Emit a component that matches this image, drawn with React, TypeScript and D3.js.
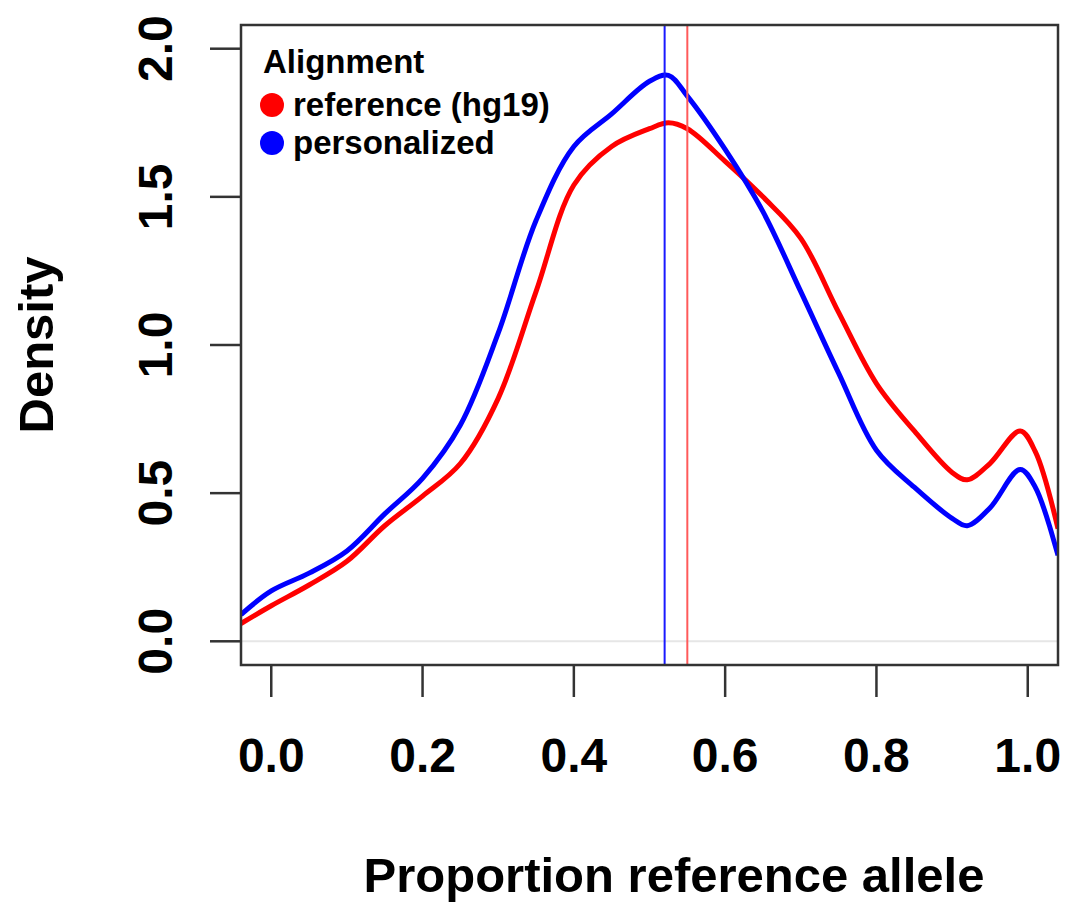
import { useEffect, useRef } from "react";
import * as d3 from "d3";

// density estimates
const xs = [-0.04, 0, 0.05, 0.1, 0.15, 0.2, 0.25, 0.3, 0.35, 0.4, 0.45, 0.5, 0.525, 0.55, 0.6, 0.65, 0.7, 0.75, 0.8, 0.85, 0.9, 0.92, 0.95, 0.99, 1.01, 1.04];
const referenceHg19 = [0.06, 0.12, 0.19, 0.27, 0.39, 0.49, 0.6, 0.82, 1.18, 1.54, 1.67, 1.73, 1.75, 1.73, 1.62, 1.5, 1.36, 1.11, 0.87, 0.71, 0.57, 0.545, 0.6, 0.71, 0.64, 0.38];
const personalized = [0.09, 0.17, 0.23, 0.305, 0.43, 0.55, 0.73, 1.04, 1.42, 1.67, 1.78, 1.89, 1.91, 1.84, 1.66, 1.45, 1.18, 0.905, 0.645, 0.52, 0.415, 0.39, 0.45, 0.58, 0.52, 0.29];
const medians = [
  { name: "personalized", value: 0.52, color: "#1a1aff" },
  { name: "reference (hg19)", value: 0.55, color: "#ff5a5a" },
];
const xTicks = [0, 0.2, 0.4, 0.6, 0.8, 1.0];
const yTicks = [0, 0.5, 1.0, 1.5, 2.0];
const legendItems = [
  { label: "reference (hg19)", color: "#ff0000" },
  { label: "personalized", color: "#0000ff" },
];

export default function App() {
  const ref = useRef<SVGSVGElement>(null);

  useEffect(() => {
    const width = 1067;
    const height = 903;
    const box = { left: 241, right: 1058, top: 25, bottom: 665 };
    const font = "'Liberation Sans', Arial, Helvetica, sans-serif";

    const svg = d3.select(ref.current);
    svg.selectAll("*").remove();
    svg.attr("width", width).attr("height", height);

    const x = d3.scaleLinear().domain([-0.04, 1.04]).range([box.left, box.right]);
    const y = d3.scaleLinear().domain([-0.08, 2.08]).range([box.bottom, box.top]);

    svg
      .append("defs")
      .append("clipPath")
      .attr("id", "plotclip")
      .append("rect")
      .attr("x", box.left)
      .attr("y", box.top)
      .attr("width", box.right - box.left)
      .attr("height", box.bottom - box.top);

    const plot = svg.append("g").attr("clip-path", "url(#plotclip)");

    // zero line
    plot
      .append("line")
      .attr("x1", box.left)
      .attr("x2", box.right)
      .attr("y1", y(0))
      .attr("y2", y(0))
      .attr("stroke", "#e6e6e6")
      .attr("stroke-width", 2);

    const line = d3
      .line<number>()
      .x((_, i) => x(xs[i]))
      .y((d) => y(d))
      .curve(d3.curveCatmullRom.alpha(0.5));

    plot
      .append("path")
      .attr("d", line(referenceHg19))
      .attr("fill", "none")
      .attr("stroke", "#ff0000")
      .attr("stroke-width", 5);

    plot
      .append("path")
      .attr("d", line(personalized))
      .attr("fill", "none")
      .attr("stroke", "#0000ff")
      .attr("stroke-width", 5);

    plot
      .selectAll("line.median")
      .data(medians)
      .enter()
      .append("line")
      .attr("class", "median")
      .attr("x1", (d) => x(d.value))
      .attr("x2", (d) => x(d.value))
      .attr("y1", box.top)
      .attr("y2", box.bottom)
      .attr("stroke", (d) => d.color)
      .attr("stroke-width", 2);

    // box
    svg
      .append("rect")
      .attr("x", box.left)
      .attr("y", box.top)
      .attr("width", box.right - box.left)
      .attr("height", box.bottom - box.top)
      .attr("fill", "none")
      .attr("stroke", "#333")
      .attr("stroke-width", 2.5);

    // x axis
    const gx = svg.append("g");
    gx.selectAll("line")
      .data(xTicks)
      .enter()
      .append("line")
      .attr("x1", (d) => x(d))
      .attr("x2", (d) => x(d))
      .attr("y1", box.bottom)
      .attr("y2", box.bottom + 32)
      .attr("stroke", "#333")
      .attr("stroke-width", 2.5);
    gx.selectAll("text")
      .data(xTicks)
      .enter()
      .append("text")
      .attr("x", (d) => x(d))
      .attr("y", 772)
      .attr("text-anchor", "middle")
      .attr("font-family", font)
      .attr("font-weight", "bold")
      .attr("font-size", 48)
      .text((d) => d3.format(".1f")(d));

    // y axis
    const gy = svg.append("g");
    gy.selectAll("line")
      .data(yTicks)
      .enter()
      .append("line")
      .attr("x1", box.left - 31)
      .attr("x2", box.left)
      .attr("y1", (d) => y(d))
      .attr("y2", (d) => y(d))
      .attr("stroke", "#333")
      .attr("stroke-width", 2.5);
    gy.selectAll("text")
      .data(yTicks)
      .enter()
      .append("text")
      .attr("transform", (d) => `translate(172,${y(d)}) rotate(-90)`)
      .attr("text-anchor", "middle")
      .attr("font-family", font)
      .attr("font-weight", "bold")
      .attr("font-size", 48)
      .text((d) => d3.format(".1f")(d));

    // axis titles
    svg
      .append("text")
      .attr("x", 674)
      .attr("y", 892)
      .attr("text-anchor", "middle")
      .attr("font-family", font)
      .attr("font-weight", "bold")
      .attr("font-size", 49)
      .text("Proportion reference allele");

    svg
      .append("text")
      .attr("transform", `translate(53,345) rotate(-90)`)
      .attr("text-anchor", "middle")
      .attr("font-family", font)
      .attr("font-weight", "bold")
      .attr("font-size", 49)
      .text("Density");

    // legend
    const lg = svg.append("g");
    lg.append("text")
      .attr("x", 263)
      .attr("y", 73)
      .attr("font-family", font)
      .attr("font-weight", "bold")
      .attr("font-size", 33)
      .text("Alignment");
    const rows = lg
      .selectAll("g.item")
      .data(legendItems)
      .enter()
      .append("g")
      .attr("class", "item")
      .attr("transform", (_, i) => `translate(0,${105 + i * 38})`);
    rows
      .append("circle")
      .attr("cx", 272)
      .attr("cy", 0)
      .attr("r", 12)
      .attr("fill", (d) => d.color);
    rows
      .append("text")
      .attr("x", 293)
      .attr("y", 11)
      .attr("font-family", font)
      .attr("font-weight", "bold")
      .attr("font-size", 33)
      .text((d) => d.label);
  }, []);

  return (
    <svg
      ref={ref}
      style={{ position: "absolute", left: 0, top: 0, background: "#fff" }}
    />
  );
}
